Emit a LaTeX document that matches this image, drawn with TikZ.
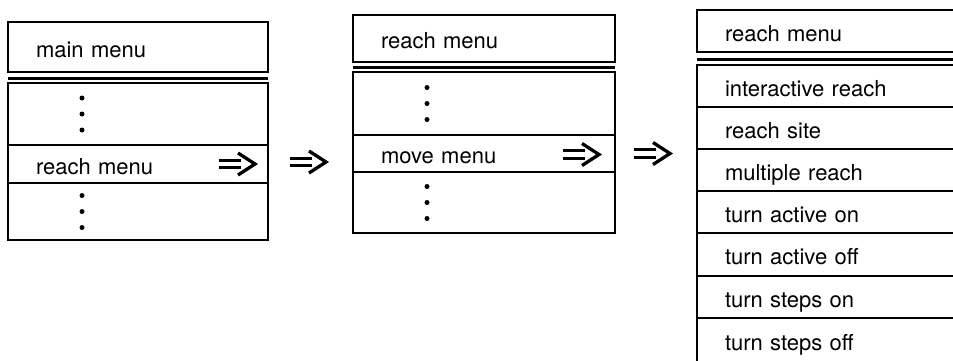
\documentclass[tikz,border=0pt]{standalone}
\usepackage{fontspec}
\setmainfont{TeX Gyre Heros}
\usetikzlibrary{positioning, calc}

\tikzset{
  menurow/.style={draw, line width=2.6pt, outer sep=0pt, inner xsep=28pt, inner ysep=0pt,
                  text height=20pt, text depth=0pt,
                  align=left, anchor=north west, font=\fontsize{22}{26}\selectfont},
  menusep/.style={line width=3pt},
  dblarr/.pic={
    \draw[line width=3pt] (-18,-3.8) -- (4,-3.8) (-18,3.8) -- (4,3.8);
    \draw[line width=3.3pt] (1,-11) -- (18,0) -- (1,11);
  }
}

\begin{document}
\begin{tikzpicture}[x=1pt, y=-1pt]
\clip (0,0) rectangle (953,360);

% main menu
\node[menurow, text width=204pt, minimum height=50pt] (m1t) at (8,22) {main menu};
\node[menurow, text width=204pt, minimum height=62pt, below=11pt of m1t] (m1a) {};
\node[menurow, text width=204pt, minimum height=38pt, below=0pt of m1a] (m1b) {reach menu};
\node[menurow, text width=204pt, minimum height=57pt, below=0pt of m1b] (m1c) {};
\draw[menusep] ($(m1t.south west)+(0,6)$) -- ($(m1t.south east)+(0,6)$);

% reach menu (collapsed)
\node[menurow, text width=206pt, minimum height=47pt] (m2t) at (353,15) {reach menu};
\node[menurow, text width=206pt, minimum height=63pt, below=10pt of m2t] (m2a) {};
\node[menurow, text width=206pt, minimum height=37pt, below=0pt of m2a] (m2b) {move menu};
\node[menurow, text width=206pt, minimum height=61pt, below=0pt of m2b] (m2c) {};
\draw[menusep] ($(m2t.south west)+(0,5)$) -- ($(m2t.south east)+(0,5)$);

% reach menu (expanded)
\node[menurow, text width=244pt, minimum height=42pt] (m3t) at (697,10) {reach menu};
\node[menurow, text width=244pt, minimum height=42pt, below=13pt of m3t] (m3a) {interactive reach};
\node[menurow, text width=244pt, minimum height=42pt, below=0pt of m3a] (m3b) {reach site};
\node[menurow, text width=244pt, minimum height=42pt, below=0pt of m3b] (m3c) {multiple reach};
\node[menurow, text width=244pt, minimum height=42pt, below=0pt of m3c] (m3d) {turn active on};
\node[menurow, text width=244pt, minimum height=43pt, below=0pt of m3d] (m3e) {turn active off};
\node[menurow, text width=244pt, minimum height=42pt, below=0pt of m3e] (m3f) {turn steps on};
\node[menurow, text width=244pt, minimum height=44pt, below=0pt of m3f] (m3g) {turn steps off};
\draw[menusep] ($(m3t.south west)+(0,7)$) -- ($(m3t.south east)+(0,7)$);

% dots for hidden entries
\foreach \r in {m1a,m1c,m2a,m2c}
  \foreach \d in {-16,0,16}
    \fill ($(\r.west)+(74,\d)$) circle (2.5);

% submenu arrows
\pic at ($(m1b.east)+(-31,0)$) {dblarr};
\pic at ($(m2b.east)+(-34,1)$) {dblarr};
\pic at ($(m1b.east)+(40,-2)$) {dblarr};
\pic at ($(m2b.east)+(37,0)$) {dblarr};
\end{tikzpicture}
\end{document}
